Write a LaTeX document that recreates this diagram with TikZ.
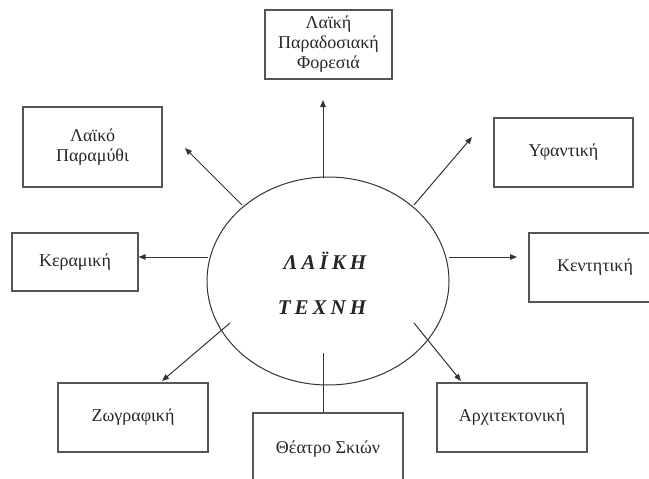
\documentclass[tikz,border=0pt]{standalone}
\usepackage{fontspec}
\setmainfont{Liberation Serif}
\usetikzlibrary{arrows.meta,shapes.geometric}
\definecolor{boxline}{HTML}{555555}
\definecolor{arrline}{HTML}{333333}
\begin{document}
\begin{tikzpicture}[x=1pt,y=-1pt,
  box/.style={draw=boxline, line width=1.2pt, rectangle, inner sep=0pt, align=center,
    font=\fontsize{18}{20}\selectfont, text=black!85},
  conn/.style={draw=arrline, line width=1pt, -{Triangle[length=7pt,width=5.5pt]}},
  plainline/.style={draw=arrline, line width=1pt},
  hubtext/.style={font=\bfseries\itshape\fontsize{21}{21}\selectfont, text=black!85, inner sep=0pt}]
\useasboundingbox (0,0) rectangle (649,479);
\clip (0,0) rectangle (649,479);
% hub
\node[draw=arrline, line width=1pt, ellipse, minimum width=242pt, minimum height=208pt, inner sep=0pt] (hub) at (328,281) {};
\node[hubtext] (t1) at (325,261) {Λ\hspace{4pt}Α\hspace{4pt}Ϊ\hspace{4pt}Κ\hspace{4pt}Η};
\node[hubtext] (t2) at (322,308) {Τ\hspace{4pt}Ε\hspace{4pt}Χ\hspace{4pt}Ν\hspace{4pt}Η};
% boxes
\node[box, minimum width=127pt, minimum height=69pt] (foresia) at (328.5,44.5) {Λαϊκή\\Παραδοσιακή\\Φορεσιά};
\node[box, minimum width=139pt, minimum height=80pt] (paramythi) at (92.5,147) {Λαϊκό\\Παραμύθι};
\node[box, minimum width=139pt, minimum height=69pt] (yfantiki) at (563.5,152.5) {Υφαντική};
\node[box, minimum width=126pt, minimum height=58pt] (keramiki) at (75,262) {Κεραμική};
\node[box, minimum width=132pt, minimum height=69pt] (kentitiki) at (595,267.5) {Κεντητική};
\node[box, minimum width=150pt, minimum height=69pt] (zografiki) at (133,417.5) {Ζωγραφική};
\node[box, minimum width=150pt, minimum height=72pt] (theatro) at (328,449) {Θέατρο Σκιών};
\node[box, minimum width=150pt, minimum height=69pt] (arch) at (512,417.5) {Αρχιτεκτονική};
% connector ends
\coordinate (s1) at (323,178);  \coordinate (e1) at (323,100);
\coordinate (s2) at (242,205);  \coordinate (e2) at (185,148);
\coordinate (s3) at (414,205);  \coordinate (e3) at (472,137);
\coordinate (s4) at (449,257);  \coordinate (e4) at (517,257);
\coordinate (s5) at (208,257);
\coordinate (s6) at (230,323);  \coordinate (e6) at (162,381);
\coordinate (s7) at (323,353);
\coordinate (s8) at (414,323);  \coordinate (e8) at (461,381);
% connectors
\draw[conn] (s1) -- (e1);
\draw[conn] (s2) -- (e2);
\draw[conn] (s3) -- (e3);
\draw[conn] (s4) -- (e4);
\draw[conn] (s5) -- (s5 -| keramiki.east);
\draw[conn] (s6) -- (e6);
\draw[plainline] (s7) -- (s7 |- theatro.north);
\draw[conn] (s8) -- (e8);
\end{tikzpicture}
\end{document}
